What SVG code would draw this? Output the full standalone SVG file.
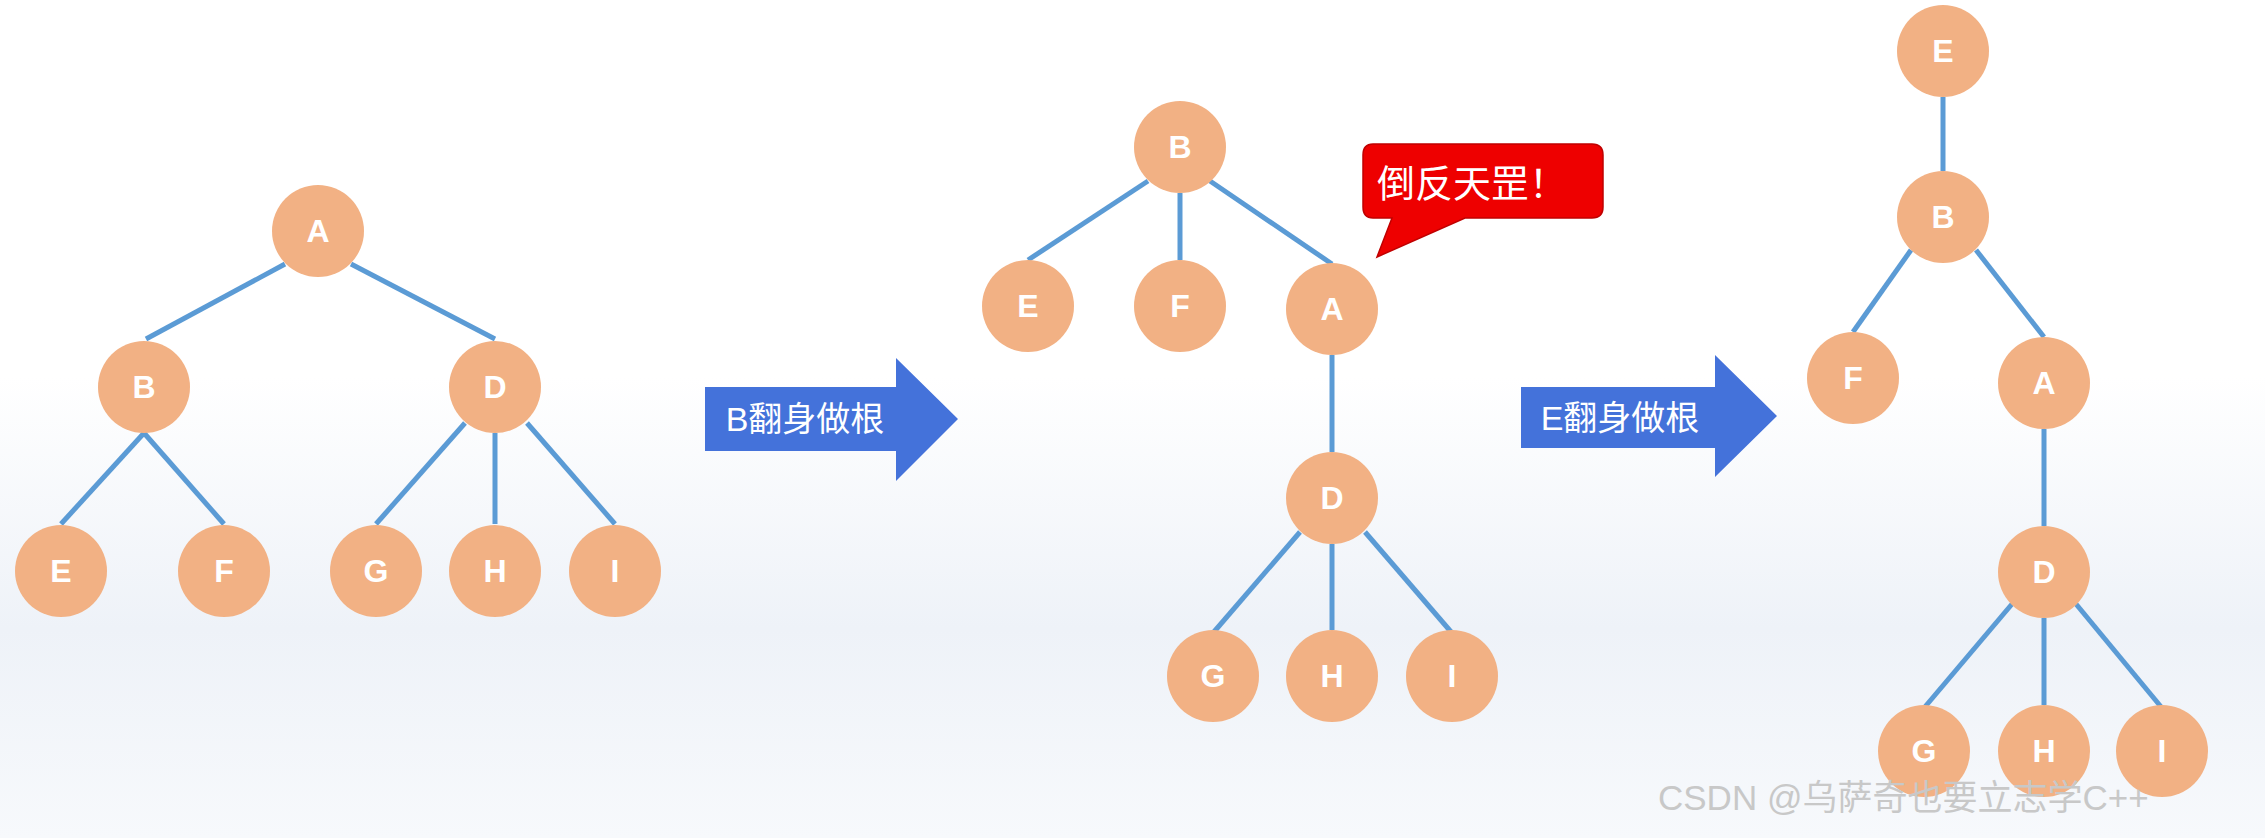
<svg xmlns="http://www.w3.org/2000/svg" width="2265" height="838" viewBox="0 0 2265 838">
<style>
.n circle{fill:#F2B184}
.n text{fill:#fff;font:bold 32px "Liberation Sans",Arial,sans-serif;text-anchor:middle;dominant-baseline:central}
#edges line{stroke:#5B9BD5;stroke-width:5}
.lbl{fill:#fff;font:34px "Liberation Sans","Noto Sans CJK SC",sans-serif;text-anchor:middle;dominant-baseline:central}
</style>
<defs>
<linearGradient id="bg" x1="0" y1="0" x2="0" y2="1">
<stop offset="0" stop-color="#fff"/><stop offset="0.45" stop-color="#fff"/><stop offset="0.75" stop-color="#eef2f8"/><stop offset="1" stop-color="#f7f9fc"/>
</linearGradient>
</defs>
<rect width="2265" height="838" fill="url(#bg)"/>
<g id="edges">
<line x1="285" y1="264" x2="146" y2="339"/><line x1="351" y1="264" x2="495" y2="339"/>
<line x1="144" y1="433" x2="61" y2="524"/><line x1="144" y1="433" x2="224" y2="524"/>
<line x1="465" y1="423" x2="376" y2="524"/><line x1="495" y1="433" x2="495" y2="524"/><line x1="527" y1="423" x2="615" y2="524"/>
<line x1="1148" y1="181" x2="1028" y2="260"/><line x1="1180" y1="193" x2="1180" y2="260"/><line x1="1210" y1="181" x2="1332" y2="264"/>
<line x1="1332" y1="355" x2="1332" y2="452"/>
<line x1="1300" y1="532" x2="1213" y2="633"/><line x1="1332" y1="544" x2="1332" y2="630"/><line x1="1365" y1="532" x2="1452" y2="633"/>
<line x1="1943" y1="97" x2="1943" y2="171"/>
<line x1="1911" y1="250" x2="1853" y2="332"/><line x1="1976" y1="250" x2="2044" y2="337"/>
<line x1="2044" y1="429" x2="2044" y2="526"/>
<line x1="2012" y1="604" x2="1924" y2="708"/><line x1="2044" y1="618" x2="2044" y2="705"/><line x1="2076" y1="604" x2="2162" y2="708"/>
</g>
<g id="t1A" class="n"><circle cx="318" cy="231" r="46"/><text x="318" y="231">A</text></g>
<g id="t1B" class="n"><circle cx="144" cy="387" r="46"/><text x="144" y="387">B</text></g>
<g id="t1D" class="n"><circle cx="495" cy="387" r="46"/><text x="495" y="387">D</text></g>
<g id="t1E" class="n"><circle cx="61" cy="571" r="46"/><text x="61" y="571">E</text></g>
<g id="t1F" class="n"><circle cx="224" cy="571" r="46"/><text x="224" y="571">F</text></g>
<g id="t1G" class="n"><circle cx="376" cy="571" r="46"/><text x="376" y="571">G</text></g>
<g id="t1H" class="n"><circle cx="495" cy="571" r="46"/><text x="495" y="571">H</text></g>
<g id="t1I" class="n"><circle cx="615" cy="571" r="46"/><text x="615" y="571">I</text></g>
<g id="arrow1"><polygon points="705,387 896,387 896,358 958,419 896,481 896,451 705,451" fill="#4472DA"/><text class="lbl" x="805" y="419">B翻身做根</text></g>
<g id="t2B" class="n"><circle cx="1180" cy="147" r="46"/><text x="1180" y="147">B</text></g>
<g id="t2E" class="n"><circle cx="1028" cy="306" r="46"/><text x="1028" y="306">E</text></g>
<g id="t2F" class="n"><circle cx="1180" cy="306" r="46"/><text x="1180" y="306">F</text></g>
<g id="t2A" class="n"><circle cx="1332" cy="309" r="46"/><text x="1332" y="309">A</text></g>
<g id="t2D" class="n"><circle cx="1332" cy="498" r="46"/><text x="1332" y="498">D</text></g>
<g id="t2G" class="n"><circle cx="1213" cy="676" r="46"/><text x="1213" y="676">G</text></g>
<g id="t2H" class="n"><circle cx="1332" cy="676" r="46"/><text x="1332" y="676">H</text></g>
<g id="t2I" class="n"><circle cx="1452" cy="676" r="46"/><text x="1452" y="676">I</text></g>
<g id="bubble"><path d="M1373,144 H1592 Q1603,144 1603,155 V207 Q1603,218 1592,218 H1465 L1377,257 L1392,218 H1373 Q1363,218 1363,207 V155 Q1363,144 1373,144 Z" fill="#EE0000" stroke="#C00000" stroke-width="1.5"/><text x="1472" y="180" fill="#fff" font-family="'Noto Sans CJK SC',sans-serif" font-size="38" text-anchor="middle" dominant-baseline="central">倒反天罡！</text></g>
<g id="arrow2"><polygon points="1521,387 1715,387 1715,355 1777,416 1715,477 1715,448 1521,448" fill="#4472DA"/><text class="lbl" x="1620" y="418">E翻身做根</text></g>
<g id="t3E" class="n"><circle cx="1943" cy="51" r="46"/><text x="1943" y="51">E</text></g>
<g id="t3B" class="n"><circle cx="1943" cy="217" r="46"/><text x="1943" y="217">B</text></g>
<g id="t3F" class="n"><circle cx="1853" cy="378" r="46"/><text x="1853" y="378">F</text></g>
<g id="t3A" class="n"><circle cx="2044" cy="383" r="46"/><text x="2044" y="383">A</text></g>
<g id="t3D" class="n"><circle cx="2044" cy="572" r="46"/><text x="2044" y="572">D</text></g>
<g id="t3G" class="n"><circle cx="1924" cy="751" r="46"/><text x="1924" y="751">G</text></g>
<g id="t3H" class="n"><circle cx="2044" cy="751" r="46"/><text x="2044" y="751">H</text></g>
<g id="t3I" class="n"><circle cx="2162" cy="751" r="46"/><text x="2162" y="751">I</text></g>
<text x="1658" y="810" fill="#c8c8c8" font-family="'Liberation Sans','Noto Sans CJK SC',sans-serif" font-size="35">CSDN @乌萨奇也要立志学C++</text>
</svg>
